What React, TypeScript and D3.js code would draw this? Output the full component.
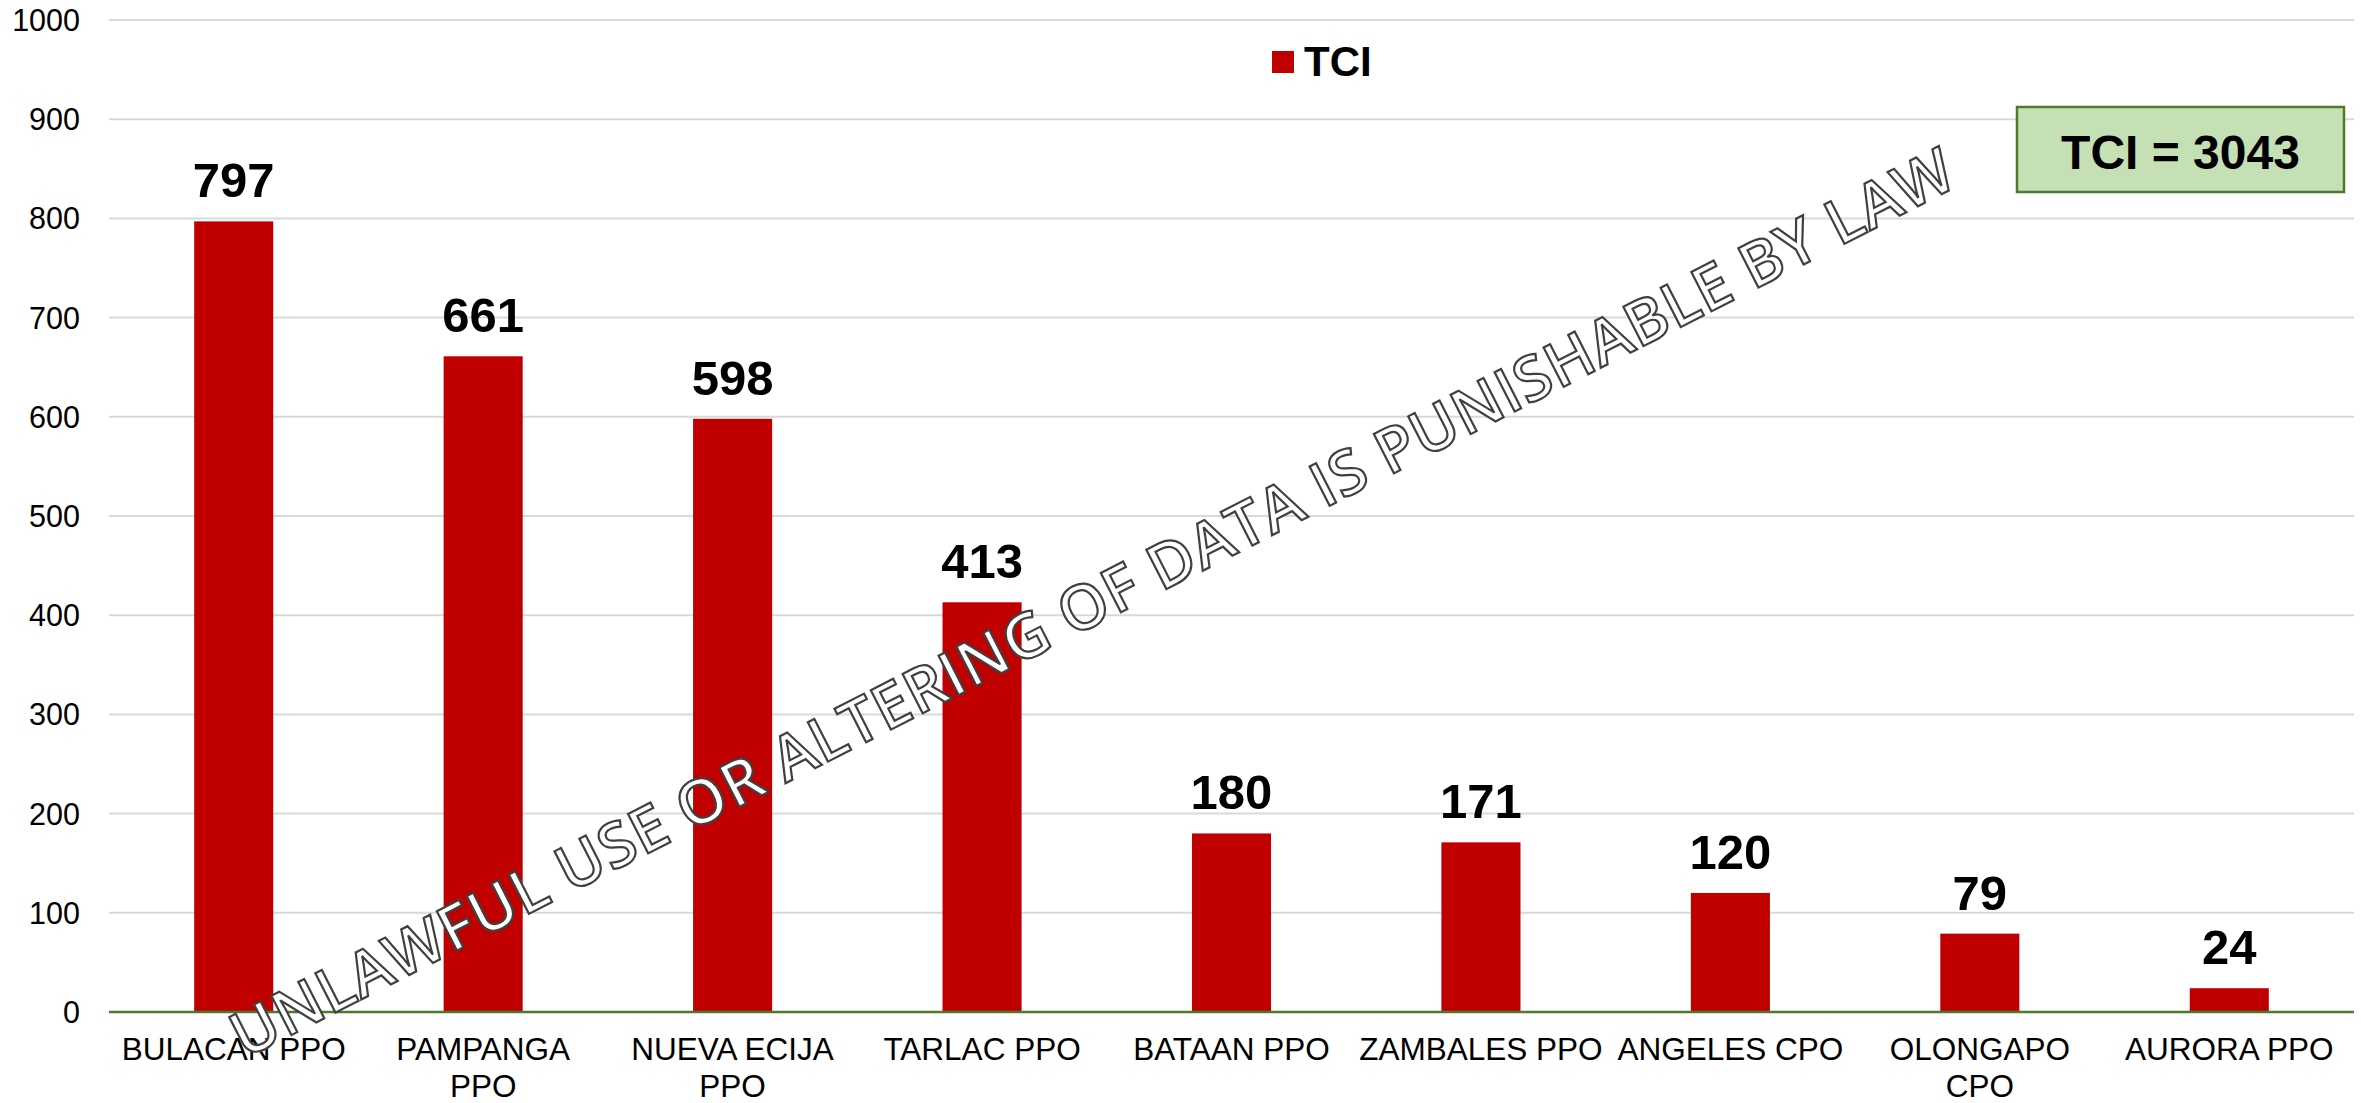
import React from "react";
import * as d3 from "d3";

const categories = [
  "BULACAN PPO",
  "PAMPANGA PPO",
  "NUEVA ECIJA PPO",
  "TARLAC PPO",
  "BATAAN PPO",
  "ZAMBALES PPO",
  "ANGELES CPO",
  "OLONGAPO CPO",
  "AURORA PPO",
];
const categoryLines = [
  ["BULACAN PPO"],
  ["PAMPANGA", "PPO"],
  ["NUEVA ECIJA", "PPO"],
  ["TARLAC PPO"],
  ["BATAAN PPO"],
  ["ZAMBALES PPO"],
  ["ANGELES CPO"],
  ["OLONGAPO", "CPO"],
  ["AURORA PPO"],
];
const tciValues = [797, 661, 598, 413, 180, 171, 120, 79, 24];
const yTicks = [0, 100, 200, 300, 400, 500, 600, 700, 800, 900, 1000];
const seriesName = "TCI";
const totalLabel = "TCI = 3043";
const watermark = "UNLAWFUL USE OR ALTERING OF DATA IS PUNISHABLE BY LAW";

const W = 2361;
const H = 1103;
const plotLeft = 109;
const plotRight = 2354;
const plotTop = 20;
const plotBottom = 1012;
const FONT = "'Liberation Sans', Arial, Helvetica, sans-serif";

export default function App() {
  const x = d3
    .scaleBand<string>()
    .domain(categories)
    .range([plotLeft, plotRight])
    .paddingInner(0.683)
    .paddingOuter(0.3415);
  const y = d3.scaleLinear().domain([0, 1000]).range([plotBottom, plotTop]);

  return (
    <svg
      width={W}
      height={H}
      viewBox={`0 0 ${W} ${H}`}
      style={{ position: "absolute", left: 0, top: 0, display: "block", background: "#fff" }}
    >
      <rect x={0} y={0} width={W} height={H} fill="#fff" />
      {yTicks.map((t) =>
        t === 0 ? null : (
          <line
            key={"g" + t}
            x1={plotLeft}
            x2={plotRight}
            y1={y(t)}
            y2={y(t)}
            stroke="#d9d9d9"
            strokeWidth={2}
          />
        )
      )}
      {yTicks.map((t) => (
        <text
          key={"yl" + t}
          x={80}
          y={y(t)}
          dy="0.36em"
          textAnchor="end"
          fontFamily={FONT}
          fontSize={30.5}
          fill="#000"
        >
          {t}
        </text>
      ))}
      {categories.map((c, i) => (
        <rect
          key={"b" + c}
          x={x(c)}
          y={y(tciValues[i])}
          width={x.bandwidth()}
          height={y(0) - y(tciValues[i])}
          fill="#c00000"
        />
      ))}
      <line x1={plotLeft} x2={plotRight} y1={y(0)} y2={y(0)} stroke="#4e7a2c" strokeWidth={2.5} />
      {categories.map((c, i) => (
        <text
          key={"v" + c}
          x={(x(c) as number) + x.bandwidth() / 2}
          y={y(tciValues[i]) - 24}
          textAnchor="middle"
          fontFamily={FONT}
          fontWeight="bold"
          fontSize={49}
          fill="#000"
        >
          {tciValues[i]}
        </text>
      ))}
      {categories.map((c, i) => (
        <text
          key={"x" + c}
          textAnchor="middle"
          fontFamily={FONT}
          fontSize={31.5}
          fill="#000"
        >
          {categoryLines[i].map((ln, j) => (
            <tspan key={j} x={(x(c) as number) + x.bandwidth() / 2} y={1060 + j * 37}>
              {ln}
            </tspan>
          ))}
        </text>
      ))}
      <rect x={1272} y={51} width={22} height={22} fill="#c00000" />
      <text x={1304} y={76} fontFamily={FONT} fontWeight="bold" fontSize={42} fill="#000">
        {seriesName}
      </text>
      <rect x={2017} y={107} width={327} height={85} fill="#c5e0b4" stroke="#4e7a2c" strokeWidth={2.5} />
      <text
        x={2180.5}
        y={169}
        textAnchor="middle"
        fontFamily={FONT}
        fontWeight="bold"
        fontSize={48}
        fill="#000"
      >
        {totalLabel}
      </text>
      <text
        x={1102}
        y={622}
        transform="rotate(-27 1102 622)"
        textAnchor="middle"
        fontFamily="'Open Sans', 'Noto Sans', sans-serif"
        fontWeight={600}
        fontSize={62}
        fill="#ffffff"
        stroke="#404040"
        strokeWidth={2.2}
        textLength={1925}
        lengthAdjust="spacing"
      >
        {watermark}
      </text>
    </svg>
  );
}
